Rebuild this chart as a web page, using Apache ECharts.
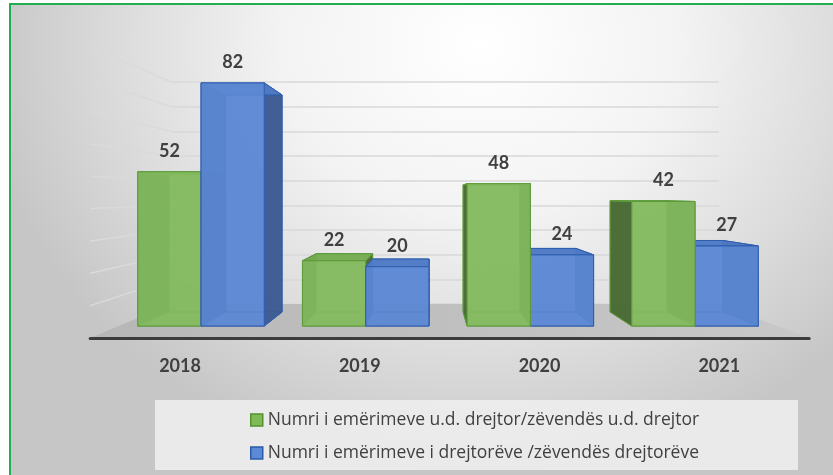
<!DOCTYPE html>
<html>
<head>
<meta charset="utf-8">
<title>Emërimet 2018-2021</title>
<script src="https://cdn.jsdelivr.net/npm/echarts@6/dist/echarts.min.js"></script>
<style>
  html, body { margin: 0; padding: 0; background: #fff; }
  #frame {
    position: absolute; left: 9px; top: 3px; width: 840px; height: 480px;
    border-left: 2px solid #22ad52; border-top: 2px solid #22ad52;
    background: radial-gradient(ellipse 500px 430px at 470px 40px, #ffffff 0%, #f3f3f3 40%, #dcdcdc 72%, #c6c6c6 100%);
  }
  #main { position: absolute; left: 0; top: 0; width: 833px; height: 475px; }
</style>
</head>
<body>
<div id="frame"></div>
<div id="main"></div>
<script>
// data
var years = ['2018', '2019', '2020', '2021'];
var udDrejtor = [52, 22, 48, 42];
var drejtoreve = [82, 20, 24, 27];
var seriesNames = [
  'Numri i emërimeve u.d. drejtor/zëvendës u.d. drejtor',
  'Numri i emërimeve i drejtorëve /zëvendës drejtorëve'
];
var yMax = 90, yStep = 10;

// fake 3d: the grid is the back wall, everything else is projected toward VP
var VP = [430, 195];
var K_FRONT = 1.202, K_BACK = 1.073, K_AXIS = 1.312;
var BAR_RATIO = 0.384;
var WALL = { left: 171, right: 114, top: 82, bottom: 171 };

var green = { front: 'rgba(132,187,95,0.9)', back: 'rgba(120,175,85,0.55)', side: 'rgba(72,104,52,0.95)', top: 'rgba(118,172,82,0.95)', edge: '#5c9a3a' };
var blue = { front: 'rgba(92,136,212,0.9)', back: 'rgba(80,120,200,0.55)', side: 'rgba(60,90,146,0.95)', top: 'rgba(80,122,198,0.95)', edge: '#2f5eae' };

function proj(p, k) {
  return [VP[0] + k * (p[0] - VP[0]), VP[1] + k * (p[1] - VP[1])];
}

function makeBox(side, pal) {
  return function (params, api) {
    var i = api.value(0), v = api.value(1);
    var base = api.coord([i, 0]);
    var top = api.coord([i, v]);
    var bw = api.size([1, 0])[0] * BAR_RATIO;
    var x0 = side === 0 ? base[0] - bw : base[0], x1 = x0 + bw;
    var wall = [[x0, top[1]], [x1, top[1]], [x1, base[1]], [x0, base[1]]];
    var F = wall.map(function (p) { return proj(p, K_FRONT); });
    var B = wall.map(function (p) { return proj(p, K_BACK); });
    var dist = Math.abs((F[0][0] + F[1][0]) / 2 - VP[0]);
    var z = Math.round(2000 - dist) * 10;
    function face(pts, fill, o) {
      return { type: 'polygon', z2: z + o, shape: { points: pts },
        style: { fill: fill, stroke: pal.edge, lineWidth: 1, lineJoin: 'round' } };
    }
    return { type: 'group', children: [
      face(B, pal.back, 0),
      face([B[3], B[2], F[2], F[3]], pal.back, 1),
      face([B[0], F[0], F[3], B[3]], pal.side, 2),
      face([B[1], F[1], F[2], B[2]], pal.side, 2),
      face([B[0], B[1], F[1], F[0]], pal.top, 3),
      face(F, pal.front, 4),
      { type: 'text', z2: z + 5, style: {
        text: String(v), x: (F[0][0] + F[1][0]) / 2, y: F[0][1] - 21,
        align: 'center', verticalAlign: 'middle',
        fontFamily: 'Lato', fontWeight: 'bold', fontSize: 18, fill: '#404040' } }
    ]};
  };
}

var chart = echarts.init(document.getElementById('main'));
var W = chart.getWidth(), H = chart.getHeight();
var wl = WALL.left, wr = W - WALL.right, wb = H - WALL.bottom;
var fl = proj([wl, wb], K_AXIS), fr = proj([wr, wb], K_AXIS);

var option = {
  animation: false,
  textStyle: { fontFamily: 'Lato' },
  grid: [
    { left: WALL.left, right: WALL.right, top: WALL.top, bottom: WALL.bottom },
    { left: fl[0], right: W - fr[0], top: WALL.top, bottom: H - fl[1] }
  ],
  xAxis: [
    { gridIndex: 0, type: 'category', data: years, show: false },
    { gridIndex: 1, type: 'category', data: years, z: 5,
      axisLine: { lineStyle: { color: '#3c3c3c', width: 3 } },
      axisTick: { show: false },
      axisLabel: { margin: 19, color: '#404040', fontSize: 18, fontWeight: 'bold', fontFamily: 'Lato' } }
  ],
  yAxis: [
    { gridIndex: 0, type: 'value', min: 0, max: yMax, interval: yStep,
      axisLine: { show: false }, axisTick: { show: false }, axisLabel: { show: false },
      splitLine: { lineStyle: { color: '#d9d9d9', width: 1.5 } } },
    { gridIndex: 1, type: 'value', show: false, splitLine: { show: false } }
  ],
  legend: {
    orient: 'vertical', left: 245, top: 406, itemGap: 15,
    itemWidth: 12, itemHeight: 12, icon: 'rect',
    textStyle: { color: '#404040', fontSize: 17.5, fontFamily: 'Open Sans' },
    data: [
      { name: seriesNames[0], itemStyle: { color: '#7fba57', borderColor: '#55912f', borderWidth: 1.5 } },
      { name: seriesNames[1], itemStyle: { color: '#5b8bd6', borderColor: '#2d5aa8', borderWidth: 1.5 } }
    ]
  },
  graphic: [
    { type: 'polygon', id: 'floor', z: 1, silent: true,
      shape: { points: [[wl, wb], [wr, wb], fr, fl] },
      style: { fill: { type: 'linear', x: 0, y: 0, x2: 1, y2: 0,
        colorStops: [{ offset: 0, color: '#b7b7b7' }, { offset: 1, color: '#c8c8c8' }] } } },
    { type: 'rect', id: 'legendBox', z: 1, silent: true,
      shape: { x: 155, y: 400, width: 643, height: 70 },
      style: { fill: 'rgba(240,240,240,0.85)' } }
  ],
  series: [
    { name: seriesNames[0], type: 'custom', clip: false, xAxisIndex: 0, yAxisIndex: 0,
      itemStyle: { color: '#7fba57' }, renderItem: makeBox(0, green),
      encode: { x: 0, y: 1 },
      data: years.map(function (y, i) { return [i, udDrejtor[i]]; }) },
    { name: seriesNames[1], type: 'custom', clip: false, xAxisIndex: 0, yAxisIndex: 0,
      itemStyle: { color: '#5b8bd6' }, renderItem: makeBox(1, blue),
      encode: { x: 0, y: 1 },
      data: years.map(function (y, i) { return [i, drejtoreve[i]]; }) }
  ]
};
chart.setOption(option);

// side wall lines, taken from the value axis ticks
var sideLines = [];
for (var v = yStep; v <= yMax; v += yStep) {
  var y = chart.convertToPixel({ yAxisIndex: 0 }, v);
  var end = proj([wl, y], K_AXIS);
  sideLines.push({ type: 'line', id: 'side' + v, z: 0, silent: true,
    shape: { x1: wl, y1: y, x2: end[0], y2: end[1] },
    style: { stroke: '#dadada', lineWidth: 1.5 } });
}
chart.setOption({ graphic: sideLines });
</script>
</body>
</html>
